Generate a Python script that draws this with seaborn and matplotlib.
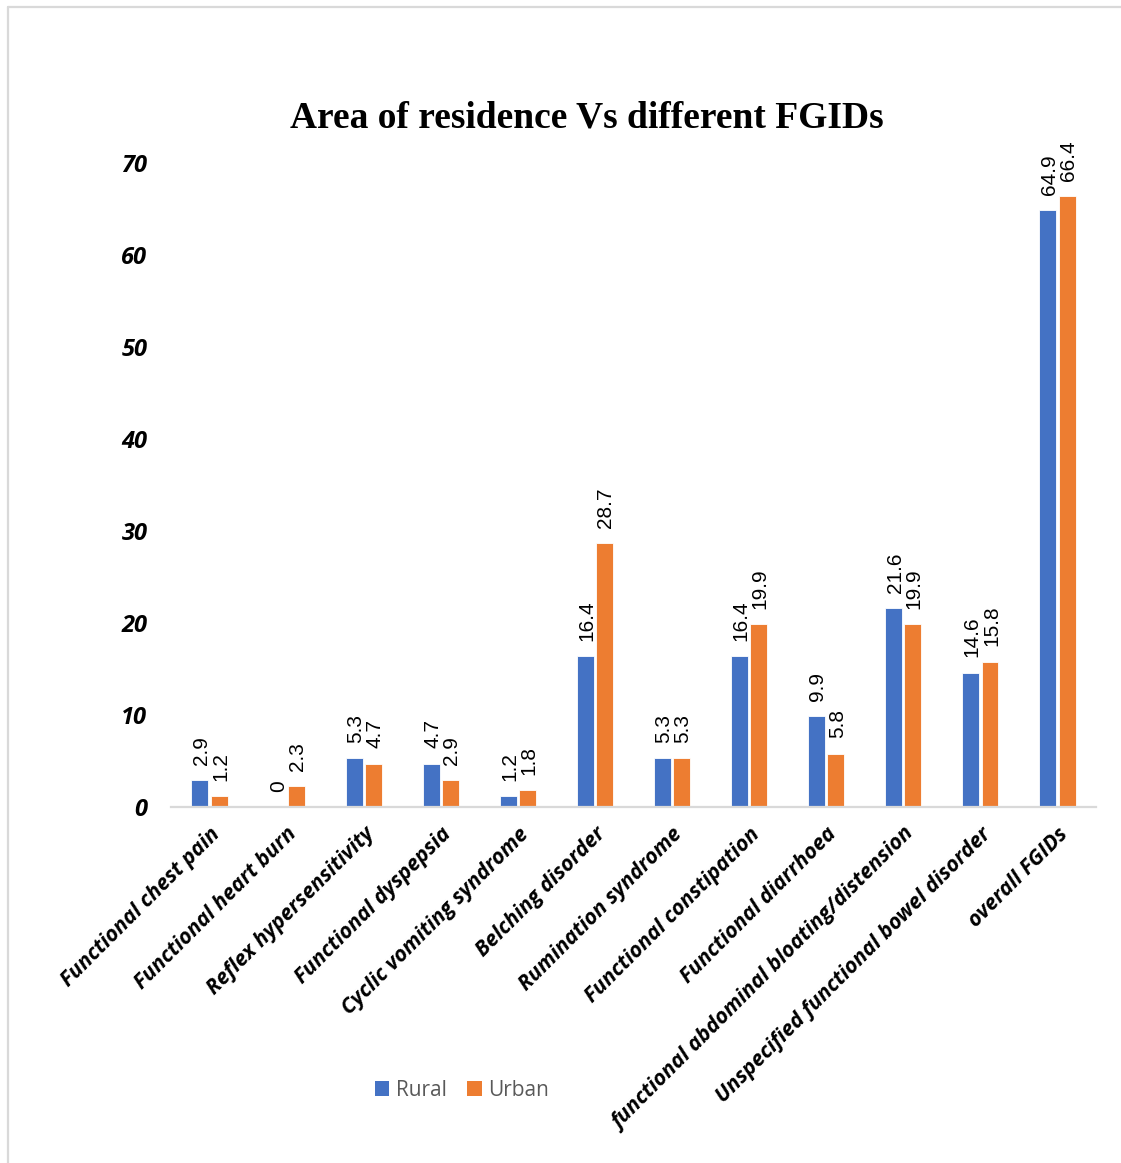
import matplotlib
matplotlib.use("Agg")
import matplotlib.pyplot as plt
from matplotlib.lines import Line2D
from matplotlib.patches import Patch
import seaborn as sns
import pandas as pd

categories = [
    "Functional chest pain",
    "Functional heart burn",
    "Reflex hypersensitivity",
    "Functional dyspepsia",
    "Cyclic vomiting syndrome",
    "Belching disorder",
    "Rumination syndrome",
    "Functional constipation",
    "Functional diarrhoea",
    "functional abdominal bloating/distension",
    "Unspecified functional bowel disorder",
    "overall FGIDs",
]
rural = [2.9, 0, 5.3, 4.7, 1.2, 16.4, 5.3, 16.4, 9.9, 21.6, 14.6, 64.9]
urban = [1.2, 2.3, 4.7, 2.9, 1.8, 28.7, 5.3, 19.9, 5.8, 19.9, 15.8, 66.4]
groups = ["Rural", "Urban"]
colors = ["#4472C4", "#ED7D31"]
yticks = [0, 10, 20, 30, 40, 50, 60, 70]

df = pd.DataFrame({
    "category": categories * 2,
    "group": [groups[0]] * len(categories) + [groups[1]] * len(categories),
    "value": rural + urban,
})

sns.set_theme(style="white")
plt.rcParams["font.family"] = ["Open Sans", "DejaVu Sans"]

W, H = 1121, 1163
fig = plt.figure(figsize=(W / 100, H / 100), dpi=100)
ax = fig.add_axes([171 / W, 1 - 807 / H, (1096 - 171) / W, (807 - 163) / H])

sns.barplot(data=df, x="category", y="value", hue="group", order=categories,
            hue_order=groups, palette=colors, saturation=1, width=0.5, gap=0.12,
            edgecolor="white", linewidth=0.6, legend=False, ax=ax)

ax.set_ylim(0, 70)
ax.set_xlim(-0.5, len(categories) - 0.5)
ax.set_yticks(yticks)
ax.set_yticklabels([str(t) for t in yticks], fontsize=17, fontweight="bold",
                   fontstyle="italic", color="black")
ax.tick_params(axis="y", length=0, pad=17)
ax.tick_params(axis="x", length=0, pad=12)
ax.set_xlabel("")
ax.set_ylabel("")

for side in ["top", "right", "left"]:
    ax.spines[side].set_visible(False)
ax.spines["bottom"].set_color("#D9D9D9")
ax.spines["bottom"].set_linewidth(1.6)

ax.set_xticks(range(len(categories)))
ax.set_xticklabels(categories, rotation=45, ha="right", va="top",
                   rotation_mode="anchor", fontsize=15.3, fontweight="bold",
                   fontstyle="italic", color="black")

# value labels above each bar, rotated
for container in ax.containers:
    for bar in container:
        h = bar.get_height()
        txt = f"{h:g}"
        ax.annotate(txt, (bar.get_x() + bar.get_width() / 2, h),
                    xytext=(1, 11), textcoords="offset points",
                    rotation=90, ha="center", va="bottom",
                    fontsize=15, family="Liberation Sans", color="black")

fig.text(587 / W, 1 - 118 / H, "Area of residence Vs different FGIDs",
         ha="center", va="center", fontsize=27, fontweight="bold",
         family="Liberation Serif", color="black")

handles = [Patch(facecolor=c, edgecolor="none") for c in colors]
fig.legend(handles, groups, loc="center", bbox_to_anchor=(462 / W, 1 - 1090 / H),
           ncol=2, frameon=False, fontsize=15, labelcolor="#595959",
           handlelength=0.7, handleheight=0.7, handletextpad=0.3,
           columnspacing=1.0)

# chart area outline (top and left edges)
fig.add_artist(Line2D([8 / W, 8 / W], [0, 1 - 7 / H], transform=fig.transFigure,
                      color="#D9D9D9", linewidth=1.6))
fig.add_artist(Line2D([8 / W, 1], [1 - 7 / H, 1 - 7 / H], transform=fig.transFigure,
                      color="#D9D9D9", linewidth=1.6))

fig.savefig("out.png", dpi=100, facecolor="white")
